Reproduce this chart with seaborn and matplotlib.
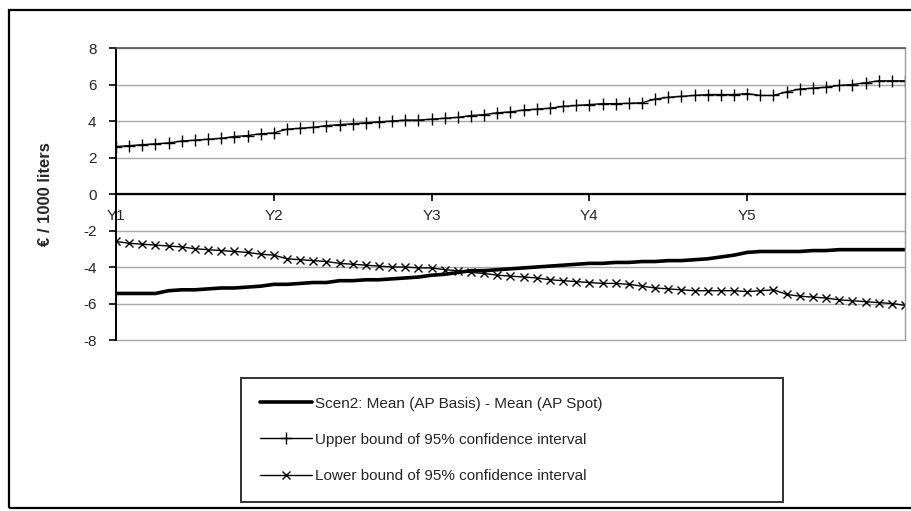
import matplotlib
matplotlib.use("Agg")
import matplotlib.pyplot as plt
from matplotlib.patches import Rectangle
import seaborn as sns
import numpy as np
import pandas as pd

# monthly steps over five years (Y1 .. end of Y5)
months = list(range(61))

year_ticks = [0, 12, 24, 36, 48]
year_labels = ["Y1", "Y2", "Y3", "Y4", "Y5"]

mean_diff = [-5.45, -5.45, -5.45, -5.45, -5.3, -5.25, -5.25, -5.2, -5.15, -5.15,
             -5.1, -5.05, -4.95, -4.95, -4.9, -4.85, -4.85, -4.75, -4.75, -4.7,
             -4.7, -4.65, -4.6, -4.55, -4.45, -4.4, -4.3, -4.2, -4.2, -4.15,
             -4.1, -4.05, -4.0, -3.95, -3.9, -3.85, -3.8, -3.8, -3.75, -3.75,
             -3.7, -3.7, -3.65, -3.65, -3.6, -3.55, -3.45, -3.35, -3.2, -3.15,
             -3.15, -3.15, -3.15, -3.1, -3.1, -3.05, -3.05, -3.05, -3.05, -3.05,
             -3.05]

upper_bound = [2.6, 2.65, 2.7, 2.75, 2.8, 2.9, 2.95, 3.0, 3.05, 3.15,
               3.2, 3.3, 3.35, 3.55, 3.6, 3.65, 3.75, 3.8, 3.85, 3.9,
               3.95, 4.0, 4.05, 4.05, 4.1, 4.15, 4.2, 4.3, 4.35, 4.45,
               4.5, 4.6, 4.65, 4.7, 4.8, 4.85, 4.9, 4.95, 4.95, 4.97,
               5.0, 5.2, 5.3, 5.35, 5.4, 5.45, 5.45, 5.45, 5.5, 5.4,
               5.4, 5.6, 5.75, 5.8, 5.85, 5.95, 6.0, 6.1, 6.2, 6.2,
               6.2]

lower_bound = [-2.6, -2.7, -2.75, -2.8, -2.85, -2.9, -3.0, -3.05, -3.1, -3.15,
               -3.2, -3.3, -3.35, -3.55, -3.6, -3.65, -3.7, -3.8, -3.85, -3.9,
               -3.95, -4.0, -4.0, -4.05, -4.05, -4.15, -4.2, -4.3, -4.35, -4.45,
               -4.5, -4.55, -4.6, -4.7, -4.75, -4.8, -4.85, -4.9, -4.9, -4.95,
               -5.05, -5.15, -5.2, -5.25, -5.3, -5.3, -5.3, -5.3, -5.35, -5.3,
               -5.25, -5.5, -5.6, -5.65, -5.7, -5.8, -5.85, -5.9, -5.95, -6.0,
               -6.1]

y_ticks = [8, 6, 4, 2, 0, -2, -4, -6, -8]

label_mean = "Scen2: Mean (AP Basis) - Mean (AP Spot)"
label_upper = "Upper bound of 95% confidence interval"
label_lower = "Lower bound of 95% confidence interval"


def main():
    sns.set_style("white")
    plt.rcParams["font.family"] = ["Liberation Sans", "DejaVu Sans"]
    plt.rcParams["axes.unicode_minus"] = False

    df = pd.DataFrame({"month": months, "mean": mean_diff,
                       "upper": upper_bound, "lower": lower_bound})

    fig = plt.figure(figsize=(9.12, 5.11), dpi=100)
    ax = fig.add_axes([116 / 912, 1 - 340 / 511, 789 / 912, 292 / 511])

    # gridlines (not clipped so the -8 border line shows)
    for v in y_ticks:
        ax.axhline(v, color="#a8a8a8", lw=1.0, zorder=0, clip_on=False)

    sns.lineplot(data=df, x="month", y="mean", ax=ax, color="black",
                 lw=2.6, label=label_mean)
    sns.lineplot(data=df, x="month", y="upper", ax=ax, color="black",
                 lw=1.0, marker="+", markersize=9, mew=1.0, mec="black",
                 label=label_upper)
    sns.lineplot(data=df, x="month", y="lower", ax=ax, color="black",
                 lw=1.0, marker="x", markersize=6, mew=1.0, mec="black",
                 label=label_lower)

    ax.set_xlim(0, 60)
    ax.set_ylim(-8, 8)

    # axes styling like the old spreadsheet chart
    ax.spines["bottom"].set_position(("data", 0))
    ax.spines["bottom"].set_color("black")
    ax.spines["bottom"].set_linewidth(1.6)
    ax.spines["left"].set_color("black")
    ax.spines["left"].set_linewidth(1.4)
    ax.spines["top"].set_color("#555555")
    ax.spines["top"].set_linewidth(1.2)
    ax.spines["right"].set_color("#999999")
    ax.spines["right"].set_linewidth(1.0)

    ax.set_xticks(year_ticks)
    ax.set_xticklabels(year_labels, fontsize=11)
    ax.set_yticks(y_ticks)
    ax.set_yticklabels([str(v) for v in y_ticks], fontsize=11)
    ax.tick_params(axis="x", direction="out", length=5, width=1.2,
                   color="black", pad=6, bottom=True)
    ax.tick_params(axis="y", direction="out", length=5, width=1.2,
                   color="black", pad=9, left=True)

    ax.set_xlabel("")
    ax.set_ylabel("€ / 1000 liters", fontsize=12, fontweight="bold")
    ax.yaxis.set_label_coords(-0.08, 0.5)

    leg = ax.legend(loc="lower left", mode="expand",
                    bbox_to_anchor=(241 / 912, 1 - 502 / 511, 542 / 912, 0.24),
                    bbox_transform=fig.transFigure, fontsize=11,
                    borderaxespad=0, handlelength=3.4, handletextpad=0.2,
                    labelspacing=1.45, borderpad=1.25, frameon=True,
                    fancybox=False)
    leg.get_frame().set_edgecolor("black")
    leg.get_frame().set_linewidth(1.4)

    # outer chart frame
    fig.patches.append(Rectangle((9 / 912, 1 - 508 / 511), 1.05, 498 / 511,
                                 transform=fig.transFigure, fill=False,
                                 edgecolor="black", lw=1.6, clip_on=False))

    fig.savefig("out.png", dpi=100)
    plt.close(fig)


if __name__ == "__main__":
    main()
